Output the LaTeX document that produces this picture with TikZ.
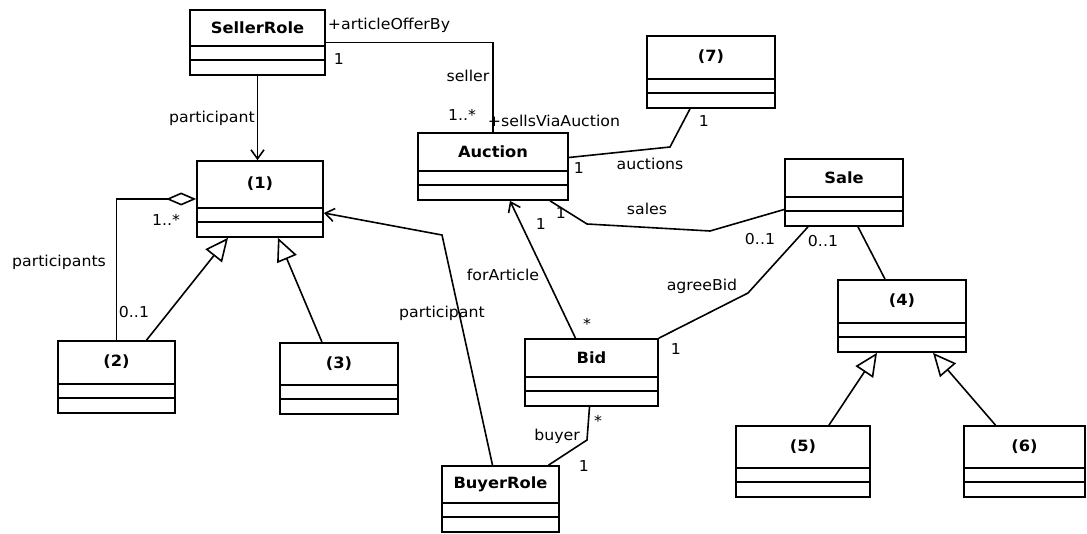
\documentclass[tikz,border=0pt]{standalone}
\usepackage{fontspec}
\setmainfont{DejaVu Sans}[FakeStretch=1.05]
\usetikzlibrary{arrows.meta,fit,positioning}

% class box: name, title, x1, y1, x2, y2 (pixel coordinates, y downwards)
\newcommand{\umlclass}[6]{%
  \node[classbox, fit={(#3,#4) (#5,#6)}] (#1) {};
  \draw[classbox] ([yshift=30pt]#1.south west) -- ([yshift=30pt]#1.south east);
  \draw[classbox] ([yshift=16pt]#1.south west) -- ([yshift=16pt]#1.south east);
  \node[classname] (#1-name) at ({(#3+#5)/2},{(#4+#6-30)/2}) {#2};
}

\begin{document}
\begin{tikzpicture}[x=1pt, y=-1pt,
    classbox/.style={draw, line width=1.7pt, inner sep=0pt},
    classname/.style={font=\bfseries\fontsize{15.5}{17}\selectfont},
    lbl/.style={font=\fontsize{15}{17}\selectfont, anchor=base, inner sep=0pt},
    assoc/.style={line width=1.6pt},
    nav/.style={assoc, -{Straight Barb[length=9pt,width=13pt]}},
    gen/.style={assoc, -{Triangle[open, length=23pt, width=21pt]}},
    agg/.style={assoc, -{Diamond[open, length=30pt, width=13pt]}}]
  \useasboundingbox[fill=white] (0,0) rectangle (1087,534);

  % Classes
  \umlclass{sr}{SellerRole}{190}{10}{325}{75}
  \umlclass{seven}{(7)}{647}{36}{775}{108}
  \umlclass{au}{Auction}{418}{133}{568}{200}
  \umlclass{one}{(1)}{197}{161}{323}{237}
  \umlclass{sale}{Sale}{785}{159}{903}{226}
  \umlclass{four}{(4)}{838}{280}{966}{352}
  \umlclass{two}{(2)}{58}{341}{175}{413}
  \umlclass{three}{(3)}{280}{343}{398}{414}
  \umlclass{bid}{Bid}{525}{339}{658}{406}
  \umlclass{five}{(5)}{736}{426}{870}{497}
  \umlclass{six}{(6)}{964}{426}{1085}{497}
  \umlclass{buyer}{BuyerRole}{442}{466}{559}{532}

  % Associations
  \draw[nav] (sr.south) -- (sr.south |- one.north);
  \draw[assoc] (sr.east) -| (au.north);
  \draw[assoc] ([yshift=9pt]au.east) -- (670,147) -- ([xshift=-21pt]seven.south);
  \draw[assoc] ([xshift=57pt]au.south) -- (587,224) -- (710,231) -- ([yshift=-17pt]sale.west);
  \draw[nav] ([xshift=-16pt]bid.north) -- ([xshift=17pt]au.south);
  \draw[assoc] (bid.north east) -- (748,293) -- ([xshift=-36pt]sale.south);
  \draw[assoc] ([xshift=14pt]sale.south) -- ([xshift=-17pt]four.north);
  \draw[nav] ([xshift=-8pt]buyer.north) -- (442,235) -- ([yshift=-14pt]one.east);
  \draw[assoc] ([xshift=-2pt]bid.south) -- (587,440) -- ([xshift=48pt]buyer.north);
  \draw[agg] (two.north) |- (one.west);

  % Generalisations
  \draw[gen] ([xshift=30pt]two.north) -- ([xshift=-32pt]one.south);
  \draw[gen] ([xshift=-17pt]three.north) -- ([xshift=18pt]one.south);
  \draw[gen] ([xshift=26pt]five.north) -- ([xshift=-25pt]four.south);
  \draw[gen] ([xshift=-29pt]six.north) -- ([xshift=31pt]four.south);

  % Role names and multiplicities
  \node[lbl] (l-part1) at (212,123) {participant};
  \node[lbl] (l-offer) at (389,30) {+articleOfferBy};
  \node[lbl] (m-sr) at (339,65) {1};
  \node[lbl] (l-seller) at (468,82) {seller};
  \node[lbl] (m-seller) at (462,121) {1..*};
  \node[lbl] (l-sells) at (554,127) {+sellsViaAuction};
  \node[lbl] (m-seven) at (704,127) {1};
  \node[lbl] (m-au7) at (579,174) {1};
  \node[lbl] (l-auctions) at (650,170) {auctions};
  \node[lbl] (l-sales) at (647,215) {sales};
  \node[lbl] (m-ausale) at (561,219) {1};
  \node[lbl] (m-aubid) at (541,230) {1};
  \node[lbl] (m-sale1) at (760,245) {0..1};
  \node[lbl] (m-sale2) at (823,247) {0..1};
  \node[lbl] (l-agree) at (702,291) {agreeBid};
  \node[lbl] (l-for) at (503,281) {forArticle};
  \node[lbl] (m-bidau) at (587,330) {*};
  \node[lbl] (m-bidsale) at (676,355) {1};
  \node[lbl] (l-part2) at (442,318) {participant};
  \node[lbl] (l-buyer) at (557,440) {buyer};
  \node[lbl] (m-bidbuy) at (598,426) {*};
  \node[lbl] (m-buyer) at (584,471) {1};
  \node[lbl] (m-agg1) at (166,226) {1..*};
  \node[lbl] (l-parts) at (59,267) {participants};
  \node[lbl] (m-agg2) at (134,318) {0..1};
\end{tikzpicture}
\end{document}
